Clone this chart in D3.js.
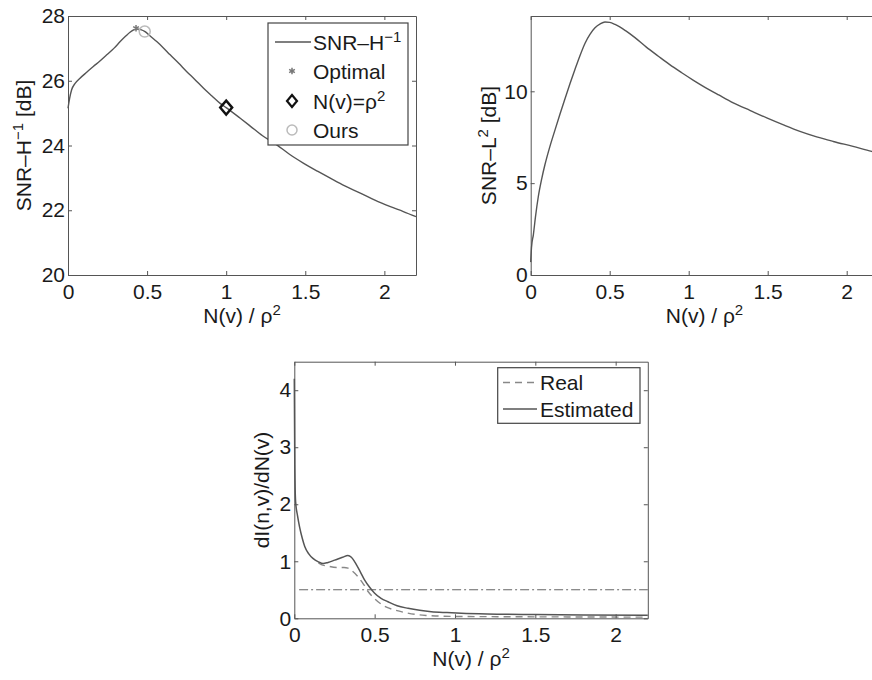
<!DOCTYPE html>
<html>
<head>
<meta charset="utf-8">
<script src="https://cdn.jsdelivr.net/npm/d3@7"></script>
<style>
  body { margin: 0; background: #fff; }
  svg { font-family: 'Liberation Sans', Arial, Helvetica, sans-serif; }
  .axis path, .axis line { stroke: #555; stroke-width: 1; }
  .axis text { fill: #1a1a1a; font-size: 21px; font-family: 'Liberation Sans', Arial, sans-serif; }
</style>
</head>
<body>
<script>
// x axis ticks shared by all three panels
const xTicks = [0, 0.5, 1, 1.5, 2];

// SNR-H^-1 curve (top left)
const snrH = [[0, 25.15], [0.01, 25.45], [0.023, 25.72], [0.045, 25.92], [0.076, 26.08], [0.12, 26.27],
  [0.16, 26.44], [0.2, 26.6], [0.245, 26.8], [0.29, 27.0], [0.33, 27.21], [0.365, 27.38], [0.392, 27.5],
  [0.415, 27.57], [0.435, 27.6], [0.46, 27.58], [0.487, 27.52], [0.52, 27.38], [0.561, 27.21], [0.6, 27.03],
  [0.646, 26.8], [0.7, 26.54], [0.751, 26.28], [0.8, 26.05], [0.857, 25.77], [0.91, 25.53], [0.962, 25.3],
  [1.0, 25.17], [1.089, 24.84], [1.152, 24.6], [1.23, 24.3], [1.32, 24.02], [1.4, 23.73], [1.49, 23.45],
  [1.58, 23.2], [1.658, 22.99], [1.75, 22.75], [1.848, 22.53], [1.94, 22.31], [2.038, 22.11], [2.12, 21.96], [2.2, 21.8]];
const snrHTicks = [20, 22, 24, 26, 28];
const optimalPt = [0.43, 27.62];
const rhoPt = [1.0, 25.17];
const oursPt = [0.485, 27.52];

// SNR-L^2 curve (top right)
const snrL = [[0, 0.7], [0.005, 1.5], [0.017, 2.2], [0.03, 3.15], [0.048, 4.26], [0.07, 5.25], [0.09, 6.0],
  [0.12, 6.95], [0.154, 7.9], [0.185, 8.75], [0.217, 9.6], [0.25, 10.45], [0.28, 11.19], [0.31, 11.9],
  [0.344, 12.62], [0.375, 13.1], [0.407, 13.46], [0.44, 13.67], [0.47, 13.77], [0.5, 13.75], [0.534, 13.64],
  [0.6, 13.3], [0.66, 12.92], [0.73, 12.42], [0.808, 11.91], [0.88, 11.45], [0.956, 11.01], [1.03, 10.6],
  [1.103, 10.22], [1.19, 9.8], [1.282, 9.37], [1.39, 8.95], [1.494, 8.55], [1.6, 8.17], [1.704, 7.82],
  [1.81, 7.52], [1.915, 7.27], [2.04, 7.0], [2.158, 6.73], [2.2, 6.65]];
const snrLTicks = [0, 5, 10];

// dI(n,v)/dN(v) (bottom)
const estimated = [[0, 4.2], [0.003, 2.7], [0.008, 2.05], [0.02, 1.8], [0.033, 1.6], [0.05, 1.4], [0.065, 1.26],
  [0.09, 1.13], [0.116, 1.05], [0.15, 0.99], [0.179, 0.96], [0.21, 0.98], [0.251, 1.02], [0.3, 1.07],
  [0.334, 1.1], [0.355, 1.07], [0.376, 0.99], [0.41, 0.82], [0.438, 0.67], [0.47, 0.54], [0.5, 0.44],
  [0.54, 0.35], [0.583, 0.29], [0.64, 0.22], [0.708, 0.175], [0.78, 0.14], [0.853, 0.116], [0.95, 0.1],
  [1.04, 0.088], [1.2, 0.075], [1.5, 0.065], [1.8, 0.058], [2.2, 0.052]];
const real = [[0.15, 0.97], [0.168, 0.94], [0.2, 0.92], [0.272, 0.89], [0.31, 0.89], [0.334, 0.88], [0.36, 0.83],
  [0.396, 0.73], [0.43, 0.6], [0.459, 0.47], [0.49, 0.37], [0.521, 0.29], [0.57, 0.2], [0.625, 0.146],
  [0.69, 0.1], [0.749, 0.07], [0.82, 0.05], [0.894, 0.04], [1.0, 0.033], [1.3, 0.028], [1.7, 0.024], [2.2, 0.02]];
const threshold = [[0.03, 0.5], [2.2, 0.5]];
const dITicks = [0, 1, 2, 3, 4];

const W = 872, H = 680;
const LINE = "#555";
const FS = "21px";

const svg = d3.select("body").append("svg")
  .attr("width", W)
  .attr("height", H);

function makePanel(left, top, width, height, ydom) {
  const g = svg.append("g").attr("transform", `translate(${left},${top})`);
  const x = d3.scaleLinear().domain([0, 2.2]).range([0, width]);
  const y = d3.scaleLinear().domain(ydom).range([height, 0]);
  return { g, x, y, width, height };
}

function drawAxes(p, yTicks) {
  const g = p.g.append("g");
  g.append("g").attr("class", "axis")
    .attr("transform", `translate(0,${p.height})`)
    .call(d3.axisBottom(p.x).tickValues(xTicks).tickSizeInner(-4).tickSizeOuter(0).tickPadding(9).tickFormat(d3.format("")));
  g.append("g").attr("class", "axis")
    .call(d3.axisTop(p.x).tickValues(xTicks).tickSizeInner(-4).tickSizeOuter(0).tickFormat(""));
  g.append("g").attr("class", "axis")
    .call(d3.axisLeft(p.y).tickValues(yTicks).tickSizeInner(-4).tickSizeOuter(0).tickPadding(3).tickFormat(d3.format("")));
  g.append("g").attr("class", "axis")
    .attr("transform", `translate(${p.width},0)`)
    .call(d3.axisRight(p.y).tickValues(yTicks).tickSizeInner(-4).tickSizeOuter(0).tickFormat(""));
}

function curve(p, data, color, dash, width) {
  const line = d3.line().x(d => p.x(d[0])).y(d => p.y(d[1])).curve(d3.curveMonotoneX);
  p.g.append("path")
    .datum(data)
    .attr("d", line)
    .attr("fill", "none")
    .attr("stroke", color)
    .attr("stroke-width", width || 1.4)
    .attr("stroke-dasharray", dash || null);
}

// label with a superscript part: parts = [[text, sup?], ...]
function richText(sel, parts) {
  let up = false;
  parts.forEach(([t, sup]) => {
    const ts = sel.append("tspan").text(t);
    if (sup && !up) { ts.attr("dy", -8).style("font-size", "15px"); up = true; }
    else if (!sup && up) { ts.attr("dy", 8); up = false; }
  });
  return sel;
}

function xLabel(p) {
  richText(p.g.append("text")
    .attr("x", p.width / 2).attr("y", p.height + 48)
    .attr("text-anchor", "middle").style("font-size", FS).attr("fill", "#1a1a1a"),
    [["N(v) / ρ", false], ["2", true]]);
}

function yLabel(p, xPos, parts) {
  richText(p.g.append("text")
    .attr("transform", `translate(${xPos},${p.height / 2}) rotate(-90)`)
    .attr("text-anchor", "middle").style("font-size", FS).attr("fill", "#1a1a1a"),
    parts);
}

// ---------- panel 1 ----------
const p1 = makePanel(68, 16, 348, 259, [20, 28]);
curve(p1, snrH, LINE);
p1.g.append("path")
  .attr("transform", `translate(${p1.x(optimalPt[0])},${p1.y(optimalPt[1])})`)
  .attr("d", d3.symbol(d3.symbolAsterisk, 30)())
  .attr("stroke", "#777").attr("stroke-width", 1.5);
p1.g.append("circle")
  .attr("cx", p1.x(oursPt[0])).attr("cy", p1.y(oursPt[1])).attr("r", 5.5)
  .attr("fill", "none").attr("stroke", "#bbb").attr("stroke-width", 1.5);
p1.g.append("path")
  .attr("transform", `translate(${p1.x(rhoPt[0])},${p1.y(rhoPt[1])})`)
  .attr("d", "M0,-7L6,0L0,7L-6,0Z")
  .attr("fill", "none").attr("stroke", "#111").attr("stroke-width", 2.4);
drawAxes(p1, snrHTicks);
xLabel(p1);
yLabel(p1, -37, [["SNR–H", false], ["−1", true], [" [dB]", false]]);

// legend 1
const lg1 = svg.append("g");
lg1.append("rect").attr("x", 268).attr("y", 23).attr("width", 140).attr("height", 122)
  .attr("fill", "#fff").attr("stroke", "#444").attr("stroke-width", 1.2);
lg1.append("line").attr("x1", 275).attr("x2", 311).attr("y1", 42).attr("y2", 42)
  .attr("stroke", LINE).attr("stroke-width", 1.4);
lg1.append("path").attr("transform", "translate(292,71)")
  .attr("d", d3.symbol(d3.symbolAsterisk, 30)()).attr("stroke", "#777").attr("stroke-width", 1.5);
lg1.append("path").attr("transform", "translate(292,101)")
  .attr("d", "M0,-6L5,0L0,6L-5,0Z").attr("fill", "none").attr("stroke", "#111").attr("stroke-width", 2.2);
lg1.append("circle").attr("cx", 292).attr("cy", 130).attr("r", 5)
  .attr("fill", "none").attr("stroke", "#bbb").attr("stroke-width", 1.5);
const lg1Text = [
  [["SNR–H", false], ["−1", true]],
  [["Optimal", false]],
  [["N(v)=ρ", false], ["2", true]],
  [["Ours", false]]
];
lg1Text.forEach((parts, i) => {
  richText(lg1.append("text").attr("x", 313).attr("y", 50 + i * 29.3)
    .style("font-size", FS).attr("fill", "#1a1a1a"), parts);
});

// ---------- panel 2 ----------
const p2 = makePanel(530.7, 16, 347.6, 259, [0, 14.1]);
curve(p2, snrL, LINE);
drawAxes(p2, snrLTicks);
xLabel(p2);
yLabel(p2, -35, [["SNR–L", false], ["2", true], [" [dB]", false]]);

// ---------- panel 3 ----------
const p3 = makePanel(294.3, 361.7, 353.5, 256.6, [0, 4.5]);
curve(p3, threshold, "#666", "9,3,2,3", 1.1);
curve(p3, real, "#888", "7,5", 1.4);
curve(p3, estimated, LINE, null, 1.5);
drawAxes(p3, dITicks);
xLabel(p3);
yLabel(p3, -25, [["dI(n,v)/dN(v)", false]]);

// legend 3
const lg3 = svg.append("g");
lg3.append("rect").attr("x", 497.7).attr("y", 367.7).attr("width", 142.3).attr("height", 55.6)
  .attr("fill", "#fff").attr("stroke", "#444").attr("stroke-width", 1.2);
lg3.append("line").attr("x1", 503).attr("x2", 537).attr("y1", 382.5).attr("y2", 382.5)
  .attr("stroke", "#888").attr("stroke-width", 1.4).attr("stroke-dasharray", "7,5");
lg3.append("line").attr("x1", 503).attr("x2", 537).attr("y1", 409).attr("y2", 409)
  .attr("stroke", LINE).attr("stroke-width", 1.5);
["Real", "Estimated"].forEach((t, i) => {
  lg3.append("text").attr("x", 540).attr("y", 390 + i * 26.7)
    .style("font-size", FS).attr("fill", "#1a1a1a").text(t);
});
</script>
</body>
</html>
